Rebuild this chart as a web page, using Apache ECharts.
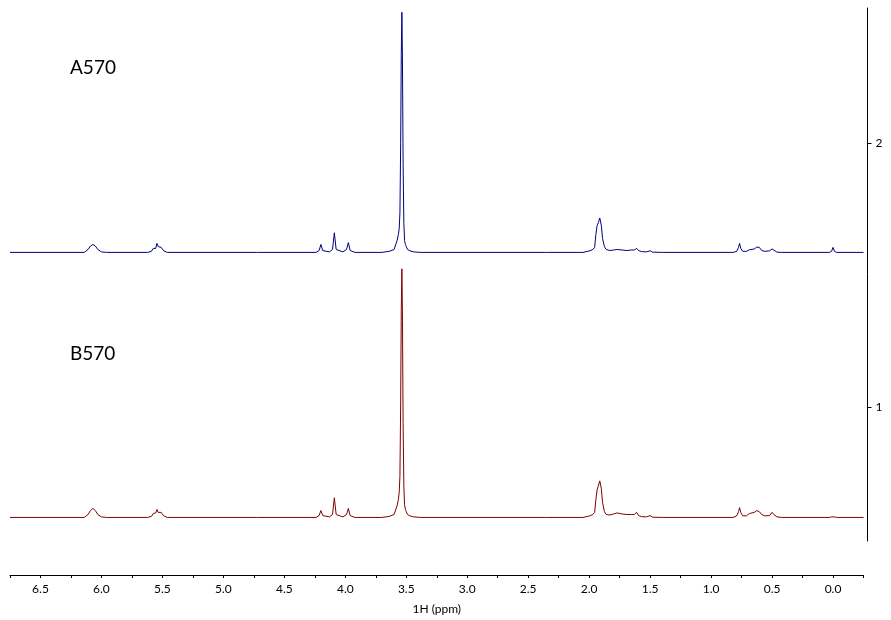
<!DOCTYPE html>
<html>
<head>
<meta charset="utf-8">
<script src="https://cdn.jsdelivr.net/npm/echarts@6/dist/echarts.min.js"></script>
<style>html,body{margin:0;padding:0;background:#fff}#c{width:891px;height:620px}</style>
</head>
<body>
<div id="c"></div>
<script>
// Chemical shift (ppm) sample points, descending
var ppm = [6.75,6.14,6.11,6.09,6.07,6.05,6.03,6.00,5.96,5.62,5.59,5.575,5.565,5.555,5.545,5.535,5.522,5.51,5.49,5.46,
  4.73,4.72,4.71,4.24,4.215,4.20,4.185,4.13,4.105,4.09,4.075,4.02,3.99,3.975,3.96,3.92,
  3.70,3.64,3.60,3.575,3.565,3.558,3.552,3.546,3.541,3.536,3.531,3.526,3.520,3.514,3.507,3.50,3.49,3.47,3.44,3.38,
  2.36,2.35,2.34,2.05,1.995,1.97,1.955,1.945,1.935,1.925,1.913,1.90,1.89,1.875,1.86,1.83,1.80,1.77,1.73,1.69,1.655,1.63,1.61,1.595,1.57,1.53,1.50,1.48,1.40,
  0.82,0.79,0.775,0.766,0.757,0.74,0.71,0.685,0.67,0.645,0.625,0.605,0.585,0.56,0.52,0.50,0.485,0.46,0.42,
  0.03,0.012,0.0,-0.012,-0.03,-0.25];
// Intensities above each spectrum's baseline
var intensityA = [0,0,0.011,0.024,0.030,0.024,0.011,0.002,0,0,0.004,0.015,0.019,0.015,0.034,0.022,0.015,0.019,0.006,0,
  0,0,0,0,0.007,0.030,0.007,0.002,0.011,0.074,0.011,0.002,0.011,0.037,0.007,0,
  0,0.004,0.011,0.045,0.067,0.089,0.149,0.410,0.745,0.907,0.708,0.335,0.112,0.045,0.030,0.022,0.011,0.006,0.002,0,
  0,0,0,0,0.006,0.011,0.019,0.067,0.101,0.112,0.130,0.101,0.052,0.022,0.011,0.007,0.009,0.011,0.009,0.007,0.009,0.009,0.015,0.007,0.003,0.002,0.006,0.001,0,
  0,0.004,0.019,0.034,0.015,0.004,0.004,0.010,0.007,0.013,0.020,0.019,0.007,0.004,0.006,0.013,0.009,0.001,0,
  0,0.004,0.019,0.004,0,0];
var intensityB = [0,0,0.011,0.026,0.034,0.026,0.011,0.002,0,0,0.004,0.015,0.020,0.017,0.030,0.019,0.015,0.019,0.006,0,
  0,0.006,0,0,0.007,0.026,0.007,0.002,0.011,0.074,0.011,0.002,0.011,0.034,0.007,0,
  0,0.004,0.011,0.045,0.067,0.093,0.156,0.428,0.782,0.939,0.745,0.354,0.119,0.048,0.030,0.022,0.011,0.006,0.002,0,
  0,0.004,0,0,0.006,0.011,0.019,0.067,0.104,0.119,0.138,0.108,0.056,0.022,0.011,0.009,0.013,0.017,0.013,0.011,0.011,0.011,0.019,0.007,0.003,0.002,0.007,0.001,0,
  0,0.006,0.022,0.037,0.019,0.006,0.006,0.015,0.011,0.019,0.026,0.022,0.011,0.006,0.007,0.019,0.011,0.002,0,
  0,0.002,0.007,0.002,0,0];
var baselines = {A: 1.586, B: 0.585};
var spectrumNames = ['A570', 'B570'];
var xLabelValues = [6.5,6.0,5.5,5.0,4.5,4.0,3.5,3.0,2.5,2.0,1.5,1.0,0.5,0.0];
var xTickValues = [6.75,6.5,6.25,6.0,5.75,5.5,5.25,5.0,4.75,4.5,4.25,4.0,3.75,3.5,3.25,3.0,2.75,2.5,2.25,2.0,1.75,1.5,1.25,1.0,0.75,0.5,0.25,0.0,-0.25];
var yTickValues = [1, 2];

function build(intens, base) {
  return ppm.map(function (p, i) { return [p, base + intens[i]]; });
}

var chart = echarts.init(document.getElementById('c'), null, {renderer: 'canvas'});
chart.setOption({
  animation: false,
  backgroundColor: '#fff',
  grid: {left: 10, right: 27.5, top: 8, bottom: 74.5, containLabel: false},
  xAxis: {
    type: 'value', inverse: true, min: -0.25, max: 6.75,
    offset: 34,
    name: '1H (ppm)', nameLocation: 'middle', nameGap: 28,
    nameTextStyle: {fontFamily: 'Lato', fontSize: 12, color: '#000'},
    axisLine: {show: true, onZero: false, lineStyle: {color: '#000', width: 1}},
    axisTick: {show: true, customValues: xTickValues, length: 3, lineStyle: {color: '#000'}},
    axisLabel: {customValues: xLabelValues, formatter: function (v) { return v.toFixed(1); },
      fontFamily: 'Lato', fontSize: 12, color: '#000', margin: 8},
    splitLine: {show: false}
  },
  yAxis: {
    type: 'value', position: 'right', min: 0.496, max: 2.509, offset: 4,
    axisLine: {show: true, onZero: false, lineStyle: {color: '#000', width: 1}},
    axisTick: {show: true, customValues: yTickValues, length: 4, lineStyle: {color: '#000'}},
    axisLabel: {customValues: yTickValues, fontFamily: 'Lato', fontSize: 12, color: '#000', margin: 8},
    splitLine: {show: false}
  },
  graphic: [
    {type: 'text', left: 70, top: 58, style: {text: spectrumNames[0], font: '19px Lato', fill: '#000'}},
    {type: 'text', left: 70, top: 344, style: {text: spectrumNames[1], font: '19px Lato', fill: '#000'}}
  ],
  series: [
    {name: spectrumNames[0], type: 'line', showSymbol: false, data: build(intensityA, baselines.A),
      lineStyle: {color: '#00007f', width: 1}, itemStyle: {color: '#00007f'}},
    {name: spectrumNames[1], type: 'line', showSymbol: false, data: build(intensityB, baselines.B),
      lineStyle: {color: '#7f0000', width: 1}, itemStyle: {color: '#7f0000'}}
  ]
});
</script>
</body>
</html>
